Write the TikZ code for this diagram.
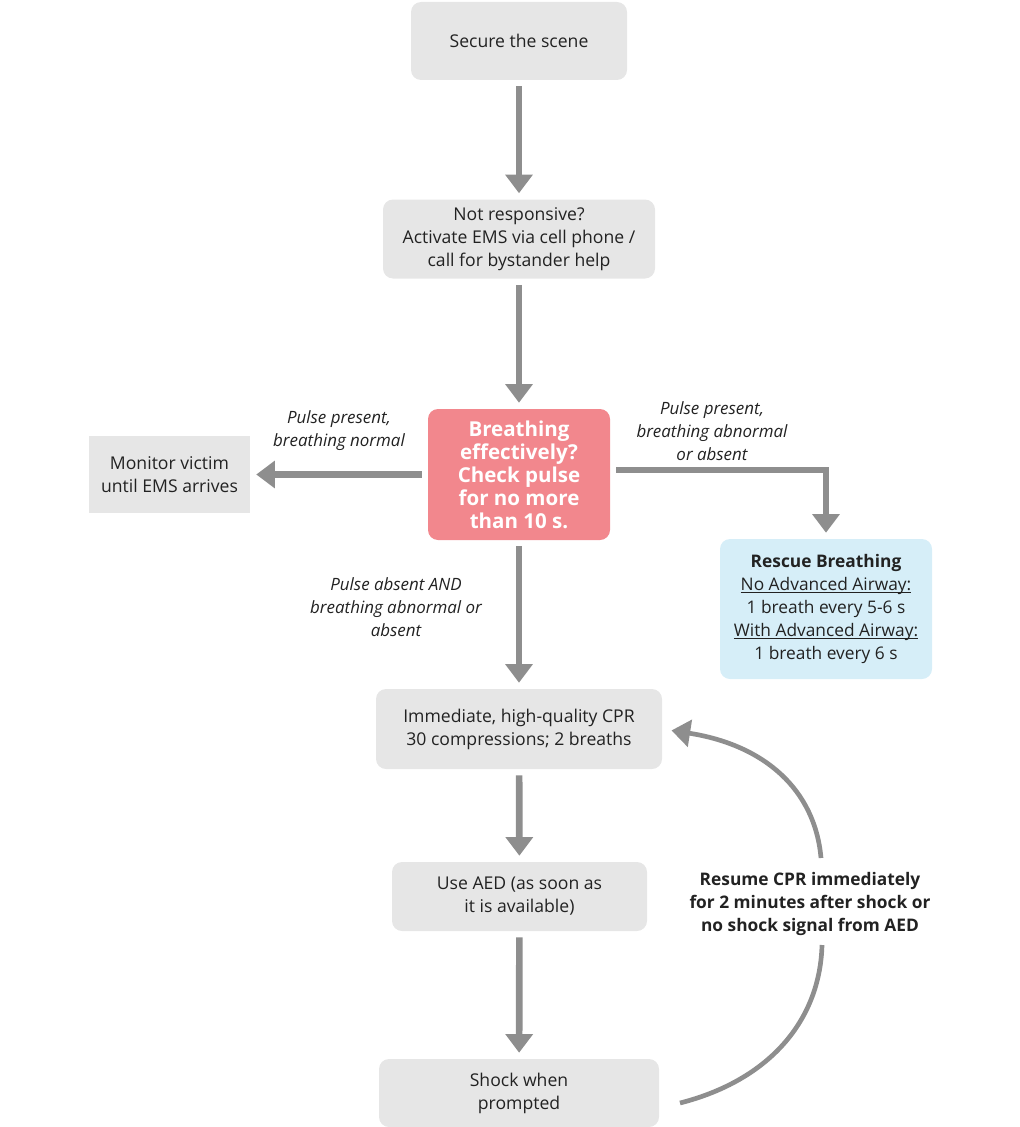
\documentclass[tikz,border=0pt]{standalone}
\usepackage{fontspec}
\setmainfont{Open Sans}
\usetikzlibrary{arrows.meta,positioning}
\definecolor{boxgray}{HTML}{E6E6E6}
\definecolor{linegray}{HTML}{8E8E8E}
\definecolor{alertred}{HTML}{F2878D}
\definecolor{infoblue}{HTML}{D6EEF8}
\definecolor{inkgray}{HTML}{222222}
\newcommand{\airway}[1]{\underline{\smash{#1}}}
\begin{document}
\begin{tikzpicture}[x=0.75pt,y=-0.75pt,
    >={Triangle[width=20pt,length=14pt]},
    flow/.style={->, draw=linegray, line width=5pt, shorten <=4.5pt, shorten >=4.5pt},
    base/.style={fill=boxgray, text=inkgray, align=center, inner sep=0pt, font=\fontsize{13.2}{17.25}\selectfont},
    proc/.style={base, rounded corners=7.5pt},
    note/.style={align=center, text=inkgray, font=\fontsize{12.7}{17.25}\selectfont\itshape}]
  \useasboundingbox (0,0) rectangle (1020,1127);
  % main trunk
  \node[proc, minimum width=162pt, minimum height=58.5pt] (secure) at (519,41) {Secure the scene};
  \node[proc, minimum width=204pt, minimum height=59.25pt] (notresp) at (519,239)
    {Not responsive?\\ Activate EMS via cell phone /\\ call for bystander help};
  \node[proc, fill=alertred, text=white, minimum width=136.5pt, minimum height=98.25pt,
    font=\fontsize{15.4}{17.25}\selectfont\bfseries] (breathe) at (519,474.5)
    {Breathing\\ effectively?\\ Check pulse\\ for no more\\ than 10 s.};
  \node[base, minimum width=120.75pt, minimum height=57.75pt] (monitor) at (169.5,474.5)
    {Monitor victim\\ until EMS arrives};
  \node[proc, fill=infoblue, minimum width=159pt, minimum height=105pt,
    font=\fontsize{13}{17.25}\selectfont] (rescue) at (826,609)
    {\textbf{Rescue Breathing}\\ \airway{No Advanced Airway:}\\ 1 breath every 5-6 s\\
     \airway{With Advanced Airway:}\\ 1 breath every 6 s};
  \node[proc, minimum width=214.5pt, minimum height=60pt] (cpr) at (519,729)
    {Immediate, high-quality CPR\\ 30 compressions; 2 breaths};
  \node[proc, minimum width=191.25pt, minimum height=51.75pt] (aed) at (519.5,896.5)
    {Use AED (as soon as\\ it is available)};
  \node[proc, minimum width=210pt, minimum height=51pt] (shock) at (519,1093)
    {Shock when\\ prompted};
  % labels
  \node[note] (normal) at (339,431) {Pulse present,\\ breathing normal};
  \node[note] (abnormal) at (712,431) {Pulse present,\\ breathing abnormal\\ or absent};
  \node[note] (absent) at (396,607) {Pulse absent AND\\ breathing abnormal or\\ absent};
  \node[align=center, text=inkgray, font=\fontsize{13}{17.25}\selectfont\bfseries] (resume) at (810,904)
    {Resume CPR immediately\\ for 2 minutes after shock or\\ no shock signal from AED};
  % arrows
  \draw[flow] (secure) -- (notresp);
  \draw[flow] (notresp) -- (breathe);
  \draw[flow] (breathe) -- (monitor);
  \draw[flow] ([yshift=3.4pt]breathe.east) -| (rescue.north);
  \draw[flow] (breathe) -- (cpr);
  \draw[flow] (cpr) -- (aed);
  \draw[flow] (aed) -- (shock);
  % loop back
  \coordinate (loopin) at (680,1103);
  \coordinate (gaplow) at (822,945);
  \coordinate (gaphigh) at (821,858);
  \draw[draw=linegray, line width=3.5pt] (loopin) .. controls (770,1080) and (820,1020) .. (gaplow);
  \draw[flow, line width=3.5pt, shorten <=0pt, shorten >=7pt] (gaphigh) .. controls (815,790) and (765,745) .. (cpr.east);
\end{tikzpicture}
\end{document}
